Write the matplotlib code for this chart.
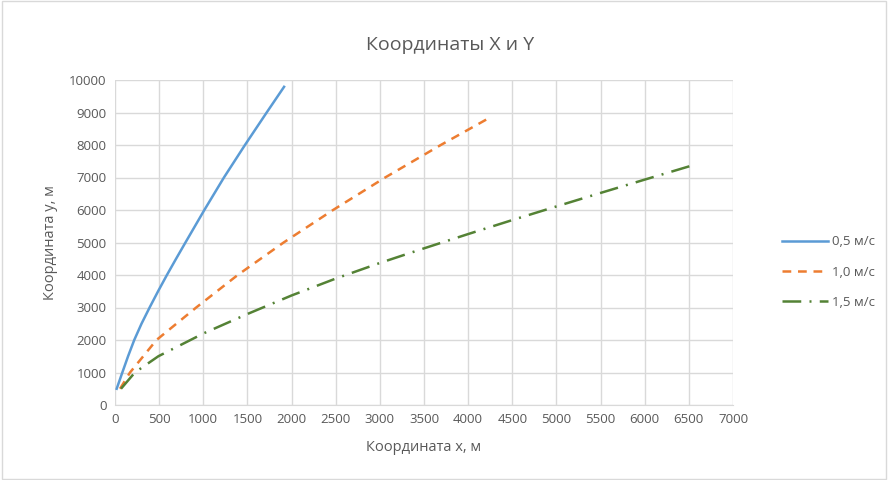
import matplotlib.pyplot as plt

# значения
x_05 = [19, 83, 148, 218, 300, 392, 488, 588, 692, 798, 1012, 1234, 1472, 1718, 1915]
y_05 = [500, 1000, 1500, 2000, 2500, 3000, 3500, 4000, 4500, 5000, 6000, 7000, 8000, 9000, 9790]

x_10 = [57, 170, 470, 920, 1390, 1910, 2470, 3060, 3690, 4230]
y_10 = [500, 1000, 2000, 3000, 4000, 5000, 6000, 7000, 8000, 8820]

x_15 = [68, 225, 491, 855, 1000, 1500, 2000, 2500, 3000, 3500, 4000, 4500, 5000, 5500, 6000, 6512]
y_15 = [500, 1000, 1500, 2000, 2200, 2800, 3370, 3890, 4370, 4820, 5260, 5690, 6110, 6525, 6935, 7350]

labels = ['0,5 м/с', '1,0 м/с', '1,5 м/с']

plt.rcParams['font.family'] = ['Open Sans', 'DejaVu Sans']
txt = '#595959'

fig = plt.figure(figsize=(8.88, 4.8), dpi=100)
ax = fig.add_axes([115 / 888, 1 - 405 / 480, 618 / 888, 325 / 480])

ax.plot(x_05, y_05, color='#5B9BD5', lw=1.8, label=labels[0])
ax.plot(x_10, y_10, color='#ED7D31', lw=1.8, dashes=(3.5, 2.7), label=labels[1])
ax.plot(x_15, y_15, color='#548235', lw=1.8, dashes=(7.5, 3.3, 0.8, 3.3), label=labels[2])

ax.set_xlim(0, 7000)
ax.set_ylim(0, 10000)
ax.set_xticks(range(0, 7001, 500))
ax.set_yticks(range(0, 10001, 1000))
ax.grid(True, color='#d9d9d9', lw=1)
ax.set_axisbelow(True)
for s in ['top', 'right', 'left']:
    ax.spines[s].set_visible(False)
ax.spines['bottom'].set_color('#d9d9d9')
ax.tick_params(length=0, colors=txt, labelsize=9.5, pad=6)

ax.set_xlabel('Координата x, м', color=txt, fontsize=10.5, labelpad=10)
ax.set_ylabel('Координата y, м', color=txt, fontsize=10.5, labelpad=8)
fig.text(0.507, 1 - 45 / 480, 'Координаты X и Y', color=txt, fontsize=14,
         ha='center', va='center')

leg = fig.legend(loc='center left', bbox_to_anchor=(770 / 888, 1 - 272 / 480),
                 frameon=False, fontsize=9.5, handlelength=3.5, labelspacing=1.3,
                 handletextpad=0.3)
for t in leg.get_texts():
    t.set_color(txt)

fig.patches.append(plt.Rectangle((0.002, 0.002), 0.996, 0.996, transform=fig.transFigure,
                                 fill=False, edgecolor='#d9d9d9', lw=1))

plt.savefig('out.png', dpi=100)
